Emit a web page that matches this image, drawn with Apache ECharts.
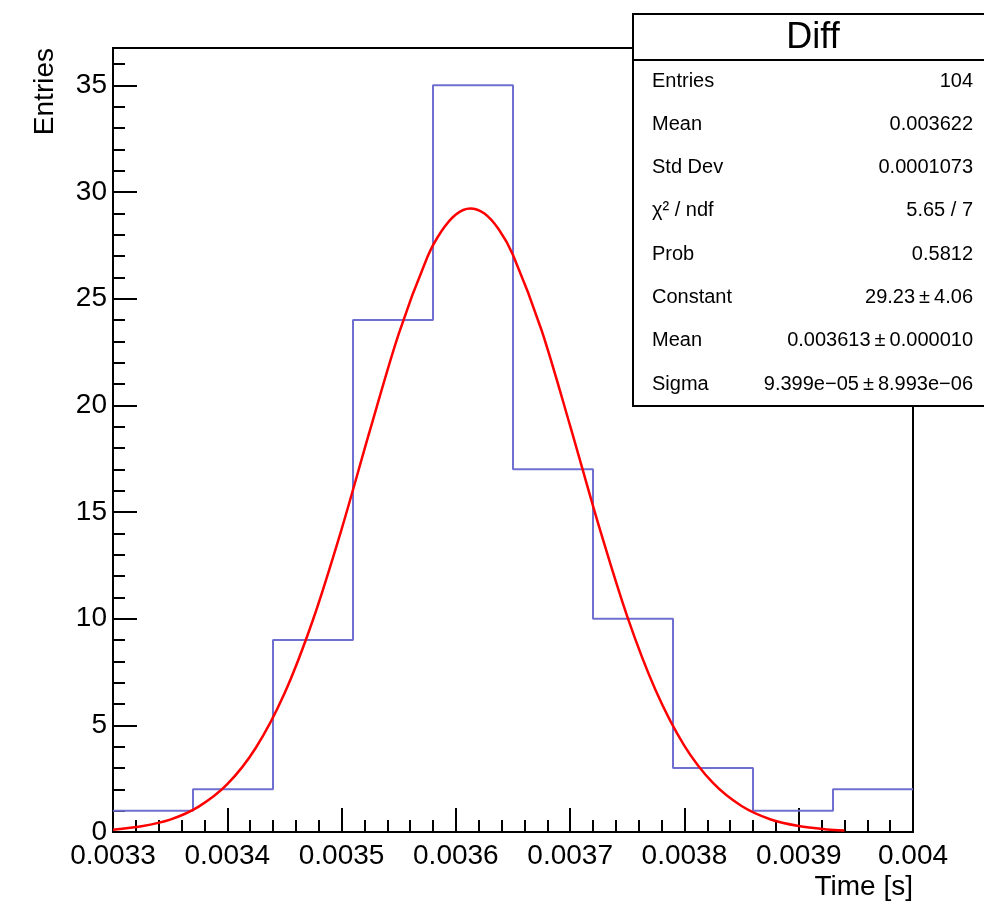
<!DOCTYPE html>
<html>
<head>
<meta charset="utf-8">
<script src="https://cdn.jsdelivr.net/npm/echarts@6/dist/echarts.min.js"></script>
<style>
  html, body { margin: 0; padding: 0; background: #fff; }
  #chart { width: 984px; height: 912px; }
</style>
</head>
<body>
<div id="chart"></div>
<script>
const FONT = '"Liberation Sans", Arial, sans-serif'

// histogram: lower bin edges and counts
const binEdges = [0.0033, 0.00337, 0.00344, 0.00351, 0.00358, 0.00365, 0.00372, 0.00379, 0.00386, 0.00393]
const binCounts = [1, 2, 9, 24, 35, 17, 10, 3, 1, 2]
const xMin = 0.0033
const xMax = 0.004

// gaus fit curve
const fitX = [0.0033, 0.003325, 0.00335, 0.003375, 0.0034, 0.003425, 0.00345, 0.003475, 0.0035, 0.003525,
  0.00355, 0.003575, 0.0035875, 0.0036, 0.0036125, 0.003625, 0.0036375, 0.00365, 0.003675, 0.0037, 0.003725, 0.00375,
  0.003775, 0.0038, 0.003825, 0.00385, 0.003875, 0.0039, 0.003925, 0.00394]
const fitY = [0.11, 0.27, 0.58, 1.19, 2.24, 3.95, 6.49, 9.95, 14.19, 18.86,
  23.35, 26.94, 28.17, 28.95, 29.23, 28.99, 28.25, 27.05, 23.52, 19.04, 14.37, 10.10,
  6.62, 4.04, 2.30, 1.22, 0.60, 0.28, 0.12, 0.07]

// stats box
const statsTitle = 'Diff'
const statsLabels = ['Entries', 'Mean', 'Std Dev', 'χ² / ndf', 'Prob', 'Constant', 'Mean', 'Sigma']
const statsValues = ['104', '0.003622', '0.0001073', '5.65 / 7', '0.5812',
  '29.23\u2009±\u20094.06', '0.003613\u2009±\u20090.000010', '9.399e\u221205\u2009±\u20098.993e\u221206']

const histData = binEdges.map((e, i) => [e, binCounts[i]])
histData.push([xMax, binCounts[binCounts.length - 1]])
const fitData = fitX.map((x, i) => [x, fitY[i]])

const chart = echarts.init(document.getElementById('chart'))

const statsGraphics = [
  { type: 'rect', z: 100, shape: { x: 633, y: 14, width: 370, height: 392 },
    style: { fill: '#fff', stroke: '#000', lineWidth: 2 } },
  { type: 'line', z: 101, shape: { x1: 633, y1: 60, x2: 984, y2: 60 },
    style: { stroke: '#000', lineWidth: 2 } },
  { type: 'text', z: 101, x: 813, y: 38,
    style: { text: statsTitle, font: '36px ' + FONT, fill: '#000', align: 'center', verticalAlign: 'middle' } },
]
statsLabels.forEach((label, i) => {
  const y = 81 + i * 43.3
  statsGraphics.push({ type: 'text', z: 101, x: 652, y: y,
    style: { text: label, font: '20px ' + FONT, fill: '#000', align: 'left', verticalAlign: 'middle' } })
  statsGraphics.push({ type: 'text', z: 101, x: 973, y: y,
    style: { text: statsValues[i], font: '20px ' + FONT, fill: '#000', align: 'right', verticalAlign: 'middle' } })
})

chart.setOption({
  animation: false,
  backgroundColor: '#fff',
  grid: { left: 113, right: 71, top: 48, bottom: 80, show: true, borderColor: '#000', borderWidth: 2 },
  xAxis: {
    type: 'value',
    min: xMin,
    max: xMax,
    interval: 0.0001,
    axisLine: { onZero: false, lineStyle: { color: '#000', width: 2 } },
    axisTick: { inside: true, length: 24, lineStyle: { color: '#000', width: 2 } },
    minorTick: { show: true, splitNumber: 5, length: 12, lineStyle: { color: '#000', width: 2 } },
    splitLine: { show: false },
    axisLabel: {
      margin: 10, color: '#000', fontFamily: FONT, fontSize: 28,
      formatter: v => String(Number(v.toFixed(5))),
    },
  },
  yAxis: [
    {
      type: 'value',
      min: 0,
      max: 36.75,
      interval: 5,
      axisLine: { show: true, lineStyle: { color: '#000', width: 2 } },
      axisTick: { inside: true, length: 24, lineStyle: { color: '#000', width: 2 } },
      splitLine: { show: false },
      axisLabel: { margin: 6, color: '#000', fontFamily: FONT, fontSize: 28, showMaxLabel: false },
    },
    {
      // minor ticks every 1 entry
      type: 'value',
      position: 'left',
      min: 0,
      max: 36.75,
      interval: 1,
      axisLine: { show: false },
      axisTick: { show: true, inside: true, length: 12, lineStyle: { color: '#000', width: 2 } },
      splitLine: { show: false },
      axisLabel: { show: false },
    },
  ],
  graphic: [
    { type: 'text', x: 913, y: 887,
      style: { text: 'Time [s]', font: '28px ' + FONT, fill: '#000', align: 'right', verticalAlign: 'middle' } },
    { type: 'text', x: 45, y: 48, rotation: Math.PI / 2,
      style: { text: 'Entries', font: '28px ' + FONT, fill: '#000', align: 'right', verticalAlign: 'middle' } },
    ...statsGraphics,
  ],
  series: [
    { name: 'Diff', type: 'line', step: 'end', data: histData, symbol: 'none',
      lineStyle: { color: '#6f6fd2', width: 2 }, z: 2 },
    { name: 'gaus', type: 'line', data: fitData, symbol: 'none', smooth: 0.3,
      lineStyle: { color: '#ff0000', width: 2.5 }, z: 3 },
  ],
})
</script>
</body>
</html>
